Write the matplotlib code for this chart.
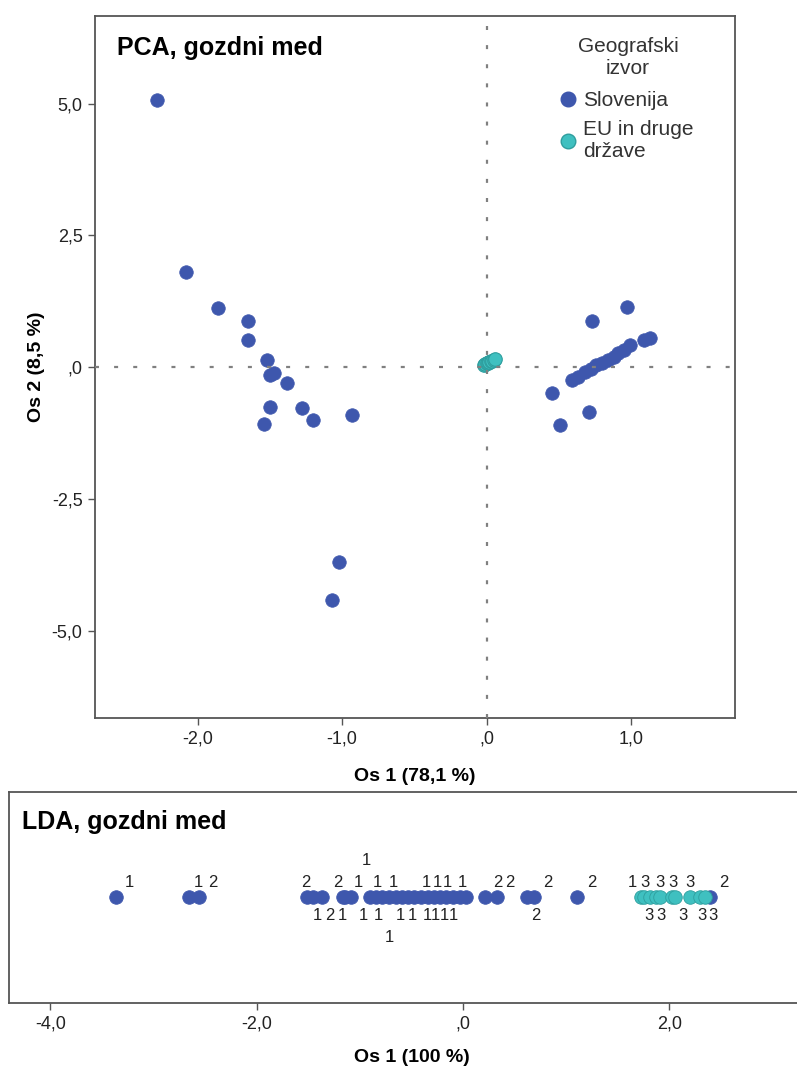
import matplotlib.pyplot as plt
from matplotlib.lines import Line2D

plt.rcParams['font.family'] = ['Liberation Sans', 'DejaVu Sans']

# PCA scores, Slovenija
slo_x = [-2.28, -2.08, -1.86, -1.65, -1.65, -1.52, -1.50, -1.47, -1.38, -1.50,
         -1.28, -1.54, -1.20, -0.93, -1.02, -1.07,
         0.73, 0.97, 0.45, 0.51, 0.71,
         0.59, 0.63, 0.68, 0.72, 0.76, 0.80, 0.84, 0.88, 0.91, 0.95, 0.99, 1.09, 1.13]
slo_y = [5.07, 1.80, 1.12, 0.87, 0.51, 0.13, -0.15, -0.11, -0.30, -0.76,
         -0.78, -1.08, -1.00, -0.91, -3.70, -4.42,
         0.87, 1.14, -0.49, -1.10, -0.85,
         -0.25, -0.19, -0.10, -0.03, 0.03, 0.08, 0.13, 0.19, 0.26, 0.33, 0.42, 0.51, 0.55]

# PCA scores, EU in druge drzave
eu_x = [-0.02, -0.01, 0.00, 0.01, 0.02, 0.02, 0.03, 0.04, 0.05, 0.06]
eu_y = [0.04, 0.05, 0.07, 0.08, 0.09, 0.10, 0.11, 0.12, 0.14, 0.15]

# LDA scores with the case labels
lda_x = [-3.36, -2.66, -2.56, -1.51, -1.45, -1.37, -1.16, -1.14, -1.09,
         -0.90, -0.84, -0.78, -0.72, -0.65, -0.59, -0.53, -0.47, -0.41, -0.34,
         -0.28, -0.22, -0.16, -0.10, -0.03, 0.03,
         0.21, 0.33, 0.62, 0.69, 1.11,
         1.73, 1.75, 1.81, 1.87, 1.91, 2.03, 2.06, 2.20, 2.30, 2.35, 2.39]
lda_lab = ['1', '1', '2', '2', '1', '2', '2', '1', '1',
           '1', '1', '1', '1', '1', '1', '1', '1', '1', '1',
           '1', '1', '1', '1', '1', '1',
           '2', '2', '2', '2', '2',
           '1', '3', '3', '3', '3', '3', '3', '3', '3', '3', '2']
lda_eu = [0] * 30 + [1] * 10 + [0]
lda_side = ['u', 'u', 'u', 'u', 'd', 'd', 'u', 'd', 'u',
            'd', 'uu', 'u', 'd', 'dd', 'u', 'd', 'd', 'u', 'd',
            'u', 'd', 'd', 'u', 'd', 'u',
            'u', 'u', 'd', 'u', 'u',
            'u', 'u', 'd', 'u', 'd', 'u', 'd', 'u', 'd', 'd', 'u']
lda_dx = [13, 10, 14, -1, 4, 8, -5, -3, 8,
          -7, -10, -5, -10, -7, -9, -8, -2, 6, -1,
          3, -5, -2, -5, -6, -4,
          13, 13, 9, 14, 14,
          -9, 1, -1, 4, 1, 1, 7, 0, 2, 8, 14]

pca_xticks = [-2.0, -1.0, 0.0, 1.0]
pca_yticks = [5.0, 2.5, 0.0, -2.5, -5.0]
lda_xticks = [-4.0, -2.0, 0.0, 2.0]

blue = '#3e57ad'
teal = '#3fc0c0'
side_dy = {'u': 15, 'd': -18, 'uu': 37, 'dd': -40}


def spss_num(v):
    s = f"{v:.1f}".replace('.', ',')
    if s.startswith('0,'):
        s = s[1:]
    return s


def style_axes(ax):
    for sp in ax.spines.values():
        sp.set_color('#555555')
        sp.set_linewidth(1.3)
    ax.tick_params(axis='both', direction='out', length=5, width=1,
                   color='#555555', labelsize=13, labelcolor='#222222', pad=4)


fig = plt.figure(figsize=(7.97, 10.68), dpi=100)

# PCA
ax = fig.add_axes([0.1192, 0.3277, 0.803, 0.6573])
ax.scatter(slo_x, slo_y, s=95, color=blue, edgecolors=blue, linewidths=0.5, zorder=2)
ax.scatter(eu_x, eu_y, s=95, color=teal, edgecolors='#2e9e9e', linewidths=0.8, zorder=2)
ax.axhline(0, color='#808080', lw=1.6, ls=(0, (1.8, 6.8)), zorder=3)
ax.axvline(0, color='#808080', lw=1.6, ls=(0, (1.8, 6.8)), zorder=3)
ax.set_xlim(-2.71, 1.72)
ax.set_ylim(-6.66, 6.66)
ax.set_xticks(pca_xticks, [spss_num(v) for v in pca_xticks])
ax.set_yticks(pca_yticks, [spss_num(v) for v in pca_yticks])
style_axes(ax)
ax.set_xlabel('Os 1 (78,1 %)', fontsize=14, fontweight='bold', labelpad=15)
ax.set_ylabel('Os 2 (8,5 %)', fontsize=14, fontweight='bold', labelpad=5)
ax.text(0.035, 0.955, 'PCA, gozdni med', transform=ax.transAxes,
        fontsize=18, fontweight='bold', va='center', ha='left')

# legend: title written separately so the gap below it can be set
ax.text(0.833, 0.941, 'Geografski\nizvor', transform=ax.transAxes, fontsize=15,
        ha='center', va='center', multialignment='center', linespacing=1.2,
        color='#333333')
handles = [Line2D([], [], ls='none', marker='o', ms=10.5, color=blue),
           Line2D([], [], ls='none', marker='o', ms=10.5, color=teal,
                  markeredgecolor='#2e9e9e')]
leg = ax.legend(handles, ['Slovenija', 'EU in druge\ndržave'],
                loc='upper left', bbox_to_anchor=(0.707, 0.9046), frameon=False,
                fontsize=15, handletextpad=0.1, handlelength=1.2,
                labelspacing=0.45, borderaxespad=0)
for t in leg.get_texts():
    t.set_color('#333333')
    t.set_linespacing(1.25)

# LDA
ax2 = fig.add_axes([0.0113, 0.0609, 1.011, 0.1975])
ax2.set_xlim(-4.40, 3.41)
ax2.set_ylim(-1, 1)
pts_y = [0.0] * len(lda_x)
for eu in (0, 1):
    xs = [x for x, g in zip(lda_x, lda_eu) if g == eu]
    ax2.scatter(xs, [0.0] * len(xs), s=95, color=teal if eu else blue,
                edgecolors='#2e9e9e' if eu else blue, linewidths=0.6, zorder=2 + eu)
for x, y, lab, side, dx in zip(lda_x, pts_y, lda_lab, lda_side, lda_dx):
    ax2.annotate(lab, (x, y), xytext=(dx, side_dy[side]), textcoords='offset pixels',
                 ha='center', va='center', fontsize=12, color='#222222')
ax2.set_xticks(lda_xticks, [spss_num(v) for v in lda_xticks])
ax2.set_yticks([])
style_axes(ax2)
ax2.set_xlabel('Os 1 (100 %)', fontsize=14, fontweight='bold', labelpad=12)
ax2.text(0.016, 0.86, 'LDA, gozdni med', transform=ax2.transAxes,
         fontsize=18, fontweight='bold', va='center', ha='left')

fig.savefig('out.png', dpi=100)
